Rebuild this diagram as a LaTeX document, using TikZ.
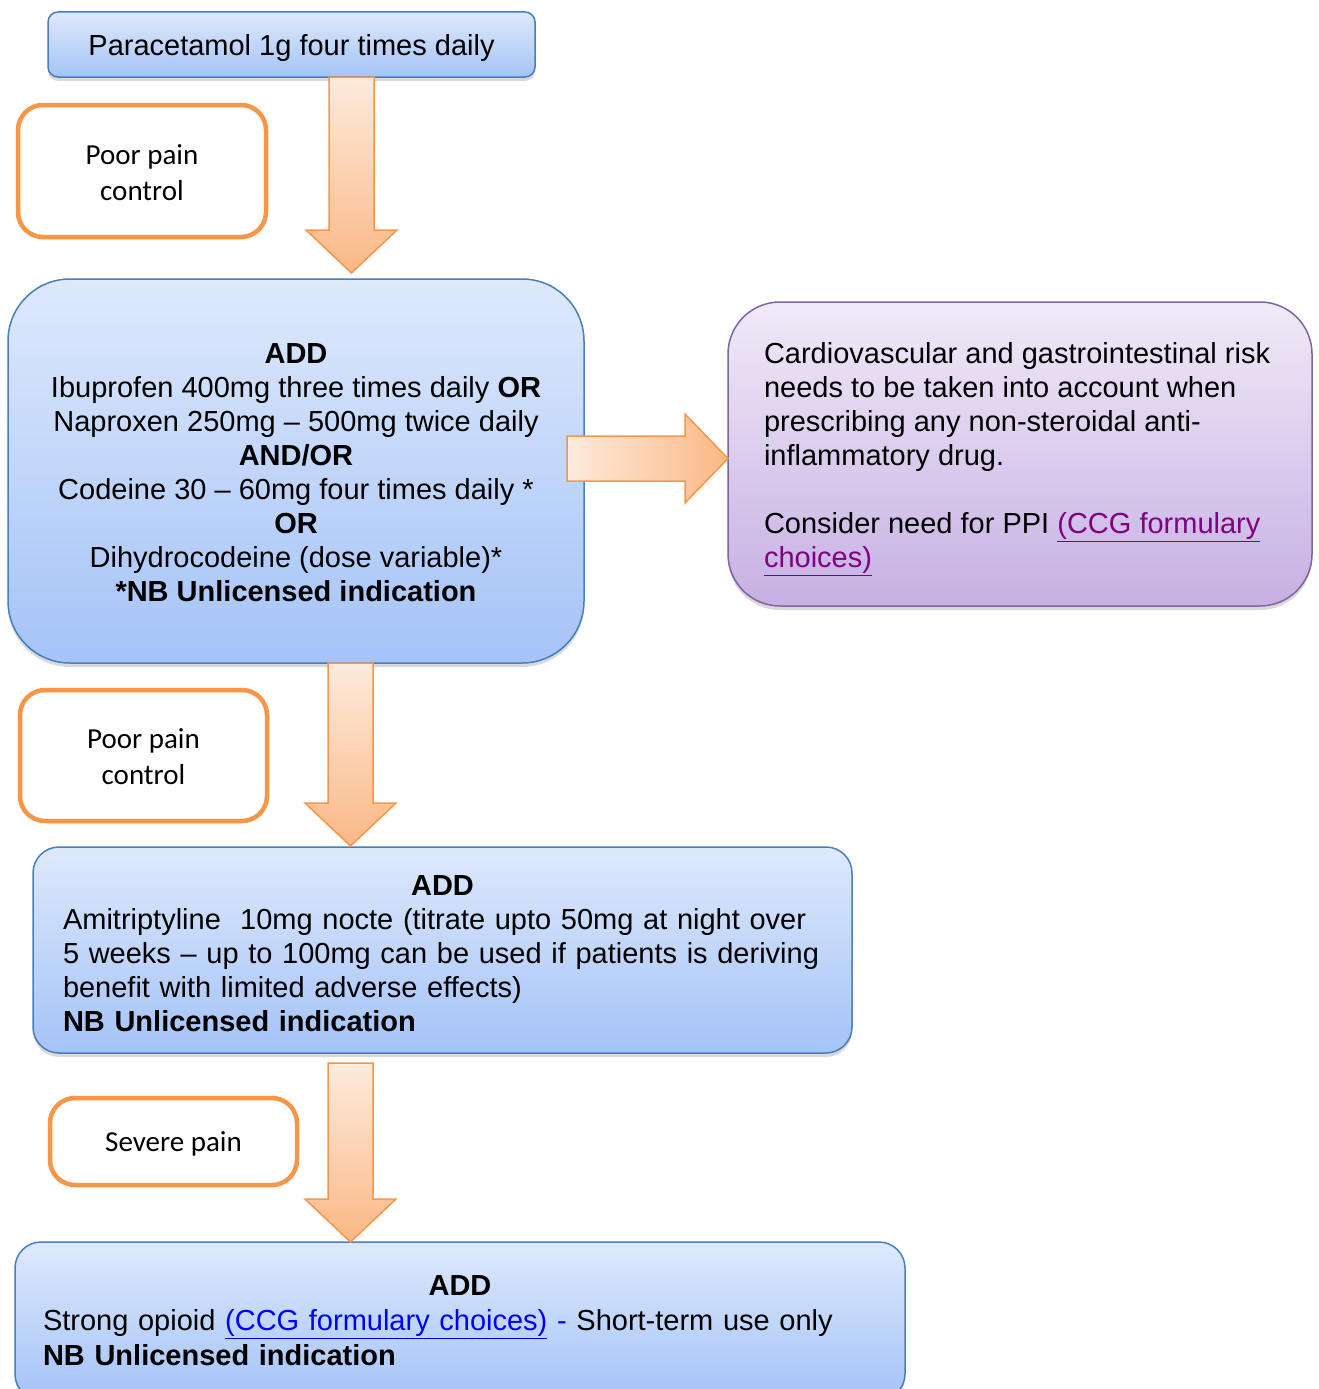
\documentclass[tikz,border=0pt]{standalone}
\usepackage{fontspec}
\setmainfont{Liberation Sans}
\newfontfamily\calfont{Carlito}
\usetikzlibrary{shadows,calc}
\definecolor{bluetop}{HTML}{DEE9FC}
\definecolor{bluebot}{HTML}{A4C3F7}
\definecolor{blueline}{HTML}{4A7EBB}
\definecolor{orangeline}{HTML}{F79646}
\definecolor{arrtop}{HTML}{FDEBDC}
\definecolor{arrbot}{HTML}{FAB885}
\definecolor{purptop}{HTML}{F0EAF8}
\definecolor{purpbot}{HTML}{C6B0E3}
\definecolor{purpline}{HTML}{8064A2}
\definecolor{linkpurple}{HTML}{800080}
\definecolor{linkblue}{HTML}{0000FF}
\newcommand\vblock[2]{%
  \path[blockarrow, top color=arrtop, bottom color=arrbot]
    ($(#1)+(-22.5,0)$) -- ($(#1)+(22.5,0)$) -- ($(#2)+(22.5,-43)$) -- ($(#2)+(45.5,-43)$)
    -- (#2) -- ($(#2)+(-45.5,-43)$) -- ($(#2)+(-22.5,-43)$) -- cycle;}
\begin{document}
\begin{tikzpicture}[x=1pt,y=-1pt,
  every node/.style={inner sep=0pt, outer sep=0pt},
  txt/.style={font=\fontsize{29}{34}\selectfont},
  bluebox/.style={rectangle, anchor=north west, draw=blueline, line width=1.5pt,
    top color=bluetop, bottom color=bluebot,
    drop shadow={opacity=0.3, shadow xshift=0pt, shadow yshift=-4pt}, txt},
  purplebox/.style={rectangle, anchor=north west, draw=purpline, line width=1.5pt,
    top color=purptop, bottom color=purpbot,
    drop shadow={opacity=0.3, shadow xshift=0pt, shadow yshift=-4pt}, txt},
  condbox/.style={rectangle, anchor=north west, draw=orangeline, line width=4.5pt,
    fill=white, rounded corners=25pt, align=center,
    font=\calfont\fontsize{29}{36}\selectfont},
  blockarrow/.style={draw=orangeline, line width=1.5pt, line join=miter}
]
\useasboundingbox (0,0) rectangle (1319,1389);

% boxes
\node[bluebox, rounded corners=10pt, minimum width=487pt, minimum height=65pt]
  (para) at (48,12) {\rule{0pt}{27.2pt}Paracetamol 1g four times daily};

\node[condbox, minimum width=248pt, minimum height=132pt] (c1) at (18,105)
  {\rule{0pt}{22.7pt}Poor pain\\control};

\node[bluebox, rounded corners=62pt, minimum width=576pt, minimum height=384pt, align=center]
  (nsaid) at (8,279)
  {\rule{0pt}{23pt}\textbf{ADD}\\
   Ibuprofen 400mg three times daily \textbf{OR}\\
   Naproxen 250mg – 500mg twice daily\\
   \textbf{AND/OR}\\
   Codeine 30 – 60mg four times daily *\\
   \textbf{OR}\\
   Dihydrocodeine (dose variable)*\\
   \textbf{*NB Unlicensed indication}};

\node[purplebox, rounded corners=52pt, minimum width=584pt, minimum height=304pt]
  (risk) at (728,302) {};
\node[txt, align=left, anchor=west] (risktxt) at (764,459)
  {Cardiovascular and gastrointestinal risk\\
   needs to be taken into account when\\
   prescribing any non-steroidal anti-\\
   inflammatory drug.\\[34pt]
   Consider need for PPI \textcolor{linkpurple}{\underline{(CCG formulary}}\\
   \textcolor{linkpurple}{\underline{choices)}}};

\node[condbox, minimum width=247pt, minimum height=131pt] (c2) at (20,690)
  {\rule{0pt}{22.7pt}Poor pain\\control};

\node[bluebox, rounded corners=26pt, minimum width=819pt, minimum height=206pt,
  text width=759pt, inner xsep=30pt, align=left]
  (ami) at (33,847)
  {\makebox[759pt]{\rule{0pt}{27pt}\textbf{ADD}}\\
   Amitriptyline\ \ 10mg nocte (titrate upto 50mg at night over\\
   5 weeks – up to 100mg can be used if patients is deriving\\
   benefit with limited adverse effects)\\
   \textbf{NB Unlicensed indication}};

\node[condbox, minimum width=247pt, minimum height=87pt] (c3) at (50,1098)
  {\rule{0pt}{25pt}Severe pain};

\node[bluebox, rounded corners=26pt, minimum width=890pt, minimum height=158pt,
  text width=834pt, inner xsep=28pt, align=left]
  (opioid) at (15,1242)
  {\makebox[834pt]{\textbf{ADD}}\\[1pt]
   Strong opioid \textcolor{linkblue}{\underline{(CCG formulary choices)}} \textcolor{linkblue}{-} Short-term use only\\[1pt]
   \textbf{NB Unlicensed indication}};

% block arrows between boxes
\coordinate (x1) at (351.5,0);
\coordinate (x2) at (350.5,0);
\coordinate (a1s) at (para.south -| x1);
\coordinate (a1e) at ($(nsaid.north -| x1)+(0,-6)$);
\coordinate (a2s) at (nsaid.south -| x2);
\coordinate (a2e) at ($(ami.north -| x2)+(0,-1)$);
\coordinate (a3s) at ($(ami.south -| x2)+(0,10)$);
\coordinate (a3e) at (opioid.north -| x2);
\vblock{a1s}{a1e}
\vblock{a2s}{a2e}
\vblock{a3s}{a3e}

\coordinate (ry) at (0,458.5);
\coordinate (rs) at (567,458.5);
\coordinate (re) at (risk.west |- ry);
\path[blockarrow, left color=arrtop, right color=arrbot]
  ($(rs)+(0,-22.5)$) -- ($(re)+(-43,-22.5)$) -- ($(re)+(-43,-44.5)$) -- (re)
  -- ($(re)+(-43,44.5)$) -- ($(re)+(-43,22.5)$) -- ($(rs)+(0,22.5)$) -- cycle;
\end{tikzpicture}
\end{document}
